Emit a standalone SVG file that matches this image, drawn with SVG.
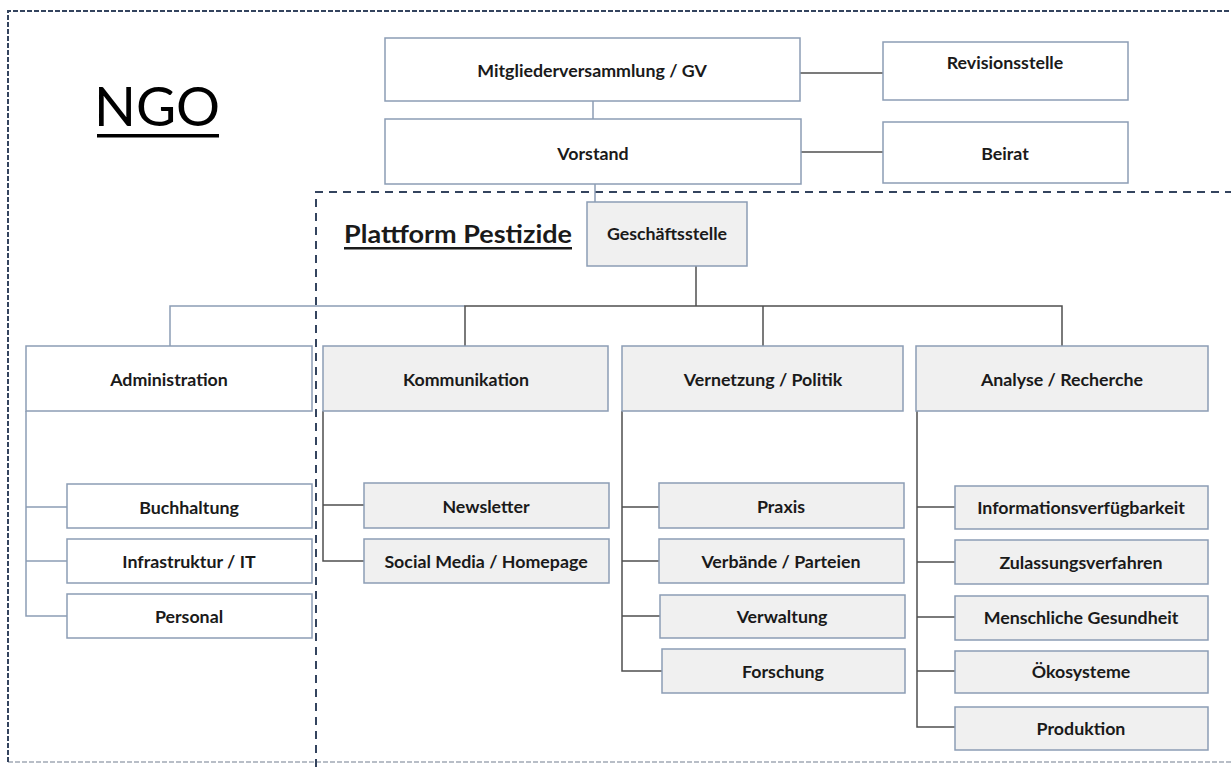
<svg xmlns="http://www.w3.org/2000/svg" width="1231" height="767" viewBox="0 0 1231 767">
<style>
.box{fill:#ffffff;stroke:#8c9db5;stroke-width:1.5}
.gbox{fill:#f0f0f0;stroke:#8c9db5;stroke-width:1.5}
.lbl{font-family:Lato,"Liberation Sans",sans-serif;font-weight:bold;font-size:17.8px;fill:#1a1a1a;text-anchor:middle;dominant-baseline:central}
.dk{stroke:#4f4f4f;stroke-width:1.5;fill:none}
.lt{stroke:#8c9db5;stroke-width:1.5;fill:none}
.dash{stroke:#34445e;stroke-width:2;fill:none;stroke-dasharray:8 6}
.outer{stroke:#34445e;stroke-width:2;fill:none;stroke-dasharray:5 2}
</style>
<rect x="0" y="0" width="1231" height="767" fill="#ffffff"/>
<g id="frames">
<path class="outer" d="M8 762 V11 H1240"/>
<path class="outer" d="M8 762 H1240" stroke-opacity="0.35"/>
<path class="dash" d="M316 767 V192 H1240"/>
</g>
<g id="titles">
<text x="157" y="126" font-family="Lato,'Liberation Sans',sans-serif" font-size="55" text-anchor="middle" fill="#000">NGO</text>
<rect x="97" y="134" width="122" height="3.5" fill="#000"/>
<text x="458" y="243" font-family="Lato,'Liberation Sans',sans-serif" font-weight="bold" font-size="25" text-anchor="middle" fill="#1a1a1a" textLength="228" lengthAdjust="spacingAndGlyphs">Plattform Pestizide</text>
<rect x="344" y="247" width="228" height="2.5" fill="#1a1a1a"/>
</g>
<g id="connectors">
<path class="lt" d="M593 101 V119"/>
<path class="dk" d="M800 73 H883"/>
<path class="dk" d="M801 152 H883"/>
<path class="lt" d="M595 184 V202"/>
<path class="dk" d="M696 266 V306"/>
<path class="lt" d="M465 306 H170 V346"/>
<path class="dk" d="M465 346 V306 H1062 V346"/>
<path class="dk" d="M763 306 V346"/>
<path class="lt" d="M26 411 V616 H67 M26 507 H67 M26 561 H67"/>
<path class="dk" d="M323 411 V561 H364 M323 505 H364"/>
<path class="dk" d="M622 411 V671 H662 M622 507 H659 M622 561 H659 M622 616 H660"/>
<path class="dk" d="M917 411 V727 H955 M917 507 H955 M917 562 H955 M917 617 H955 M917 671 H955"/>
</g>
<g id="n-mv"><rect class="box" x="385" y="38" width="415" height="63"/><text class="lbl" x="592" y="70">Mitgliederversammlung / GV</text></g>
<g id="n-vorstand"><rect class="box" x="385" y="119" width="416" height="65"/><text class="lbl" x="593" y="153">Vorstand</text></g>
<g id="n-revision"><rect class="box" x="883" y="42" width="245" height="58"/><text class="lbl" x="1005" y="62">Revisionsstelle</text></g>
<g id="n-beirat"><rect class="box" x="883" y="122" width="245" height="61"/><text class="lbl" x="1005" y="153">Beirat</text></g>
<g id="n-gs"><rect class="gbox" x="587" y="202" width="160" height="64"/><text class="lbl" x="667" y="233">Geschäftsstelle</text></g>
<g id="n-admin"><rect class="box" x="26" y="346" width="286" height="65"/><text class="lbl" x="169" y="379">Administration</text></g>
<g id="n-komm"><rect class="gbox" x="323" y="346" width="285" height="65"/><text class="lbl" x="466" y="379">Kommunikation</text></g>
<g id="n-vern"><rect class="gbox" x="622" y="346" width="281" height="65"/><text class="lbl" x="763" y="379">Vernetzung / Politik</text></g>
<g id="n-analyse"><rect class="gbox" x="916" y="346" width="292" height="65"/><text class="lbl" x="1062" y="379">Analyse / Recherche</text></g>
<g id="n-buch"><rect class="box" x="67" y="484" width="245" height="44"/><text class="lbl" x="189" y="507">Buchhaltung</text></g>
<g id="n-infra"><rect class="box" x="67" y="539" width="245" height="44"/><text class="lbl" x="189" y="561">Infrastruktur / IT</text></g>
<g id="n-personal"><rect class="box" x="67" y="594" width="245" height="44"/><text class="lbl" x="189" y="616">Personal</text></g>
<g id="n-news"><rect class="gbox" x="364" y="483" width="245" height="45"/><text class="lbl" x="486" y="506">Newsletter</text></g>
<g id="n-social"><rect class="gbox" x="364" y="539" width="245" height="44"/><text class="lbl" x="486" y="561">Social Media / Homepage</text></g>
<g id="n-praxis"><rect class="gbox" x="659" y="483" width="245" height="45"/><text class="lbl" x="781" y="506">Praxis</text></g>
<g id="n-verb"><rect class="gbox" x="659" y="539" width="245" height="44"/><text class="lbl" x="781" y="561">Verbände / Parteien</text></g>
<g id="n-verw"><rect class="gbox" x="660" y="595" width="245" height="43"/><text class="lbl" x="782" y="616">Verwaltung</text></g>
<g id="n-forsch"><rect class="gbox" x="662" y="649" width="243" height="44"/><text class="lbl" x="783" y="671">Forschung</text></g>
<g id="n-info"><rect class="gbox" x="955" y="486" width="253" height="43"/><text class="lbl" x="1081" y="507">Informationsverfügbarkeit</text></g>
<g id="n-zul"><rect class="gbox" x="955" y="540" width="253" height="44"/><text class="lbl" x="1081" y="562">Zulassungsverfahren</text></g>
<g id="n-mensch"><rect class="gbox" x="955" y="596" width="253" height="44"/><text class="lbl" x="1081" y="617">Menschliche Gesundheit</text></g>
<g id="n-oeko"><rect class="gbox" x="955" y="651" width="253" height="42"/><text class="lbl" x="1081" y="671">Ökosysteme</text></g>
<g id="n-prod"><rect class="gbox" x="955" y="707" width="253" height="43"/><text class="lbl" x="1081" y="728">Produktion</text></g>
</svg>
